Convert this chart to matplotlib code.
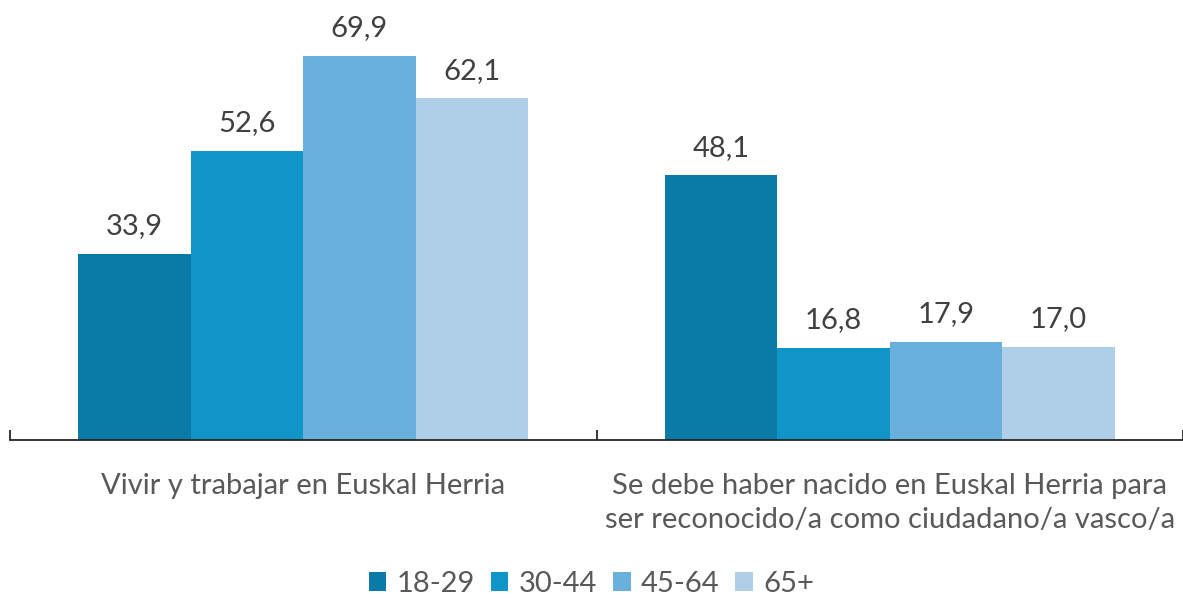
import numpy as np
import matplotlib.pyplot as plt

# data
categories = ['Vivir y trabajar en Euskal Herria',
              'Se debe haber nacido en Euskal Herria para\nser reconocido/a como ciudadano/a vasco/a']
groups = ['18-29', '30-44', '45-64', '65+']
v_18_29 = [33.9, 48.1]
v_30_44 = [52.6, 16.8]
v_45_64 = [69.9, 17.9]
v_65 = [62.1, 17.0]

colors = ['#0A7AA6', '#1095C9', '#69B0DC', '#AFCFE8']

plt.rcParams['font.family'] = ['Lato', 'DejaVu Sans']

fig = plt.figure(figsize=(11.83, 5.98), dpi=100)
ax = fig.add_axes([10 / 1183, 158 / 598, 1173 / 1183, 440 / 598])

series = [v_18_29, v_30_44, v_45_64, v_65]
x = np.arange(len(categories)) + 0.5
w = 0.767 / 4
for i, (vals, g) in enumerate(zip(series, groups)):
    pos = x + (i - 1.5) * w
    bars = ax.bar(pos, vals, width=w, color=colors[i], label=g)
    for b, v in zip(bars, vals):
        ax.annotate(f'{v:.1f}'.replace('.', ','), (b.get_x() + b.get_width() / 2, v),
                    xytext=(0, 14), textcoords='offset points',
                    ha='center', va='baseline', fontsize=21, color='#404040')

ax.set_xlim(0, 2)
ax.set_ylim(0, 80)
for s in ['top', 'right', 'left']:
    ax.spines[s].set_visible(False)
ax.spines['bottom'].set_color('#262626')
ax.spines['bottom'].set_linewidth(1.3)
ax.set_yticks([])

ax.set_xticks(x)
ax.set_xticklabels(categories, fontsize=21, color='#595959', linespacing=1.35)
ax.tick_params(axis='x', which='major', length=0, pad=24)
ax.set_xticks([0, 1, 2], minor=True)
ax.tick_params(axis='x', which='minor', direction='in', length=7, width=1.3, color='#262626')

fig.legend(loc='center', bbox_to_anchor=(0.5, 1 - 584 / 598), ncol=4, frameon=False,
           fontsize=21, labelcolor='#595959', handlelength=0.6, handleheight=0.6,
           handletextpad=0.35, columnspacing=0.55)

fig.savefig('out.png', dpi=100)
